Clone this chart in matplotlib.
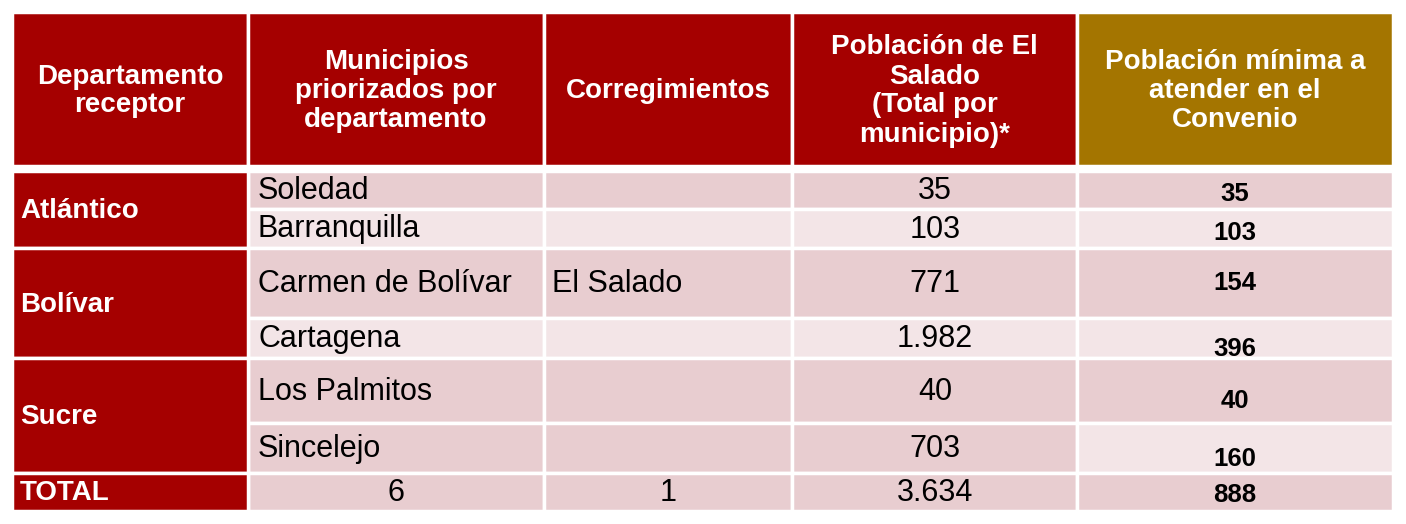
import matplotlib
matplotlib.use("Agg")
import matplotlib.pyplot as plt
from matplotlib.patches import Rectangle

headers = ["Departamento\nreceptor", "Municipios\npriorizados por\ndepartamento", "Corregimientos",
           "Población de El\nSalado\n(Total por\nmunicipio)*", "Población mínima a\natender en el\nConvenio"]
departamentos = [("Atlántico", 0, 2), ("Bolívar", 2, 4), ("Sucre", 4, 6)]
municipios = ["Soledad", "Barranquilla", "Carmen de Bolívar", "Cartagena", "Los Palmitos", "Sincelejo"]
corregimiento = "El Salado"
poblacion = ["35", "103", "771", "1.982", "40", "703"]
minima = ["35", "103", "154", "396", "40", "160"]
total = ["TOTAL", "6", "1", "3.634", "888"]

W, H = 1406, 524
fig = plt.figure(figsize=(W/100, H/100), dpi=100)
ax = fig.add_axes([0, 0, 1, 1])
ax.set_xlim(0, W); ax.set_ylim(H, 0); ax.axis("off")

cols = [12, 248, 544, 792, 1077, 1393]
rows = [171, 209, 248, 318, 358, 423, 473, 511]
RED = "#A50000"; GOLD = "#A47500"; DARK = "#E8CDD0"; LIGHT = "#F3E5E7"
FONT = "Liberation Sans"
lw = 2.5
HS, BS, NS, DS = 20, 22, 18.5, 20

def rect(x0, y0, x1, y1, c):
    ax.add_patch(Rectangle((x0, y0), x1-x0, y1-y0, facecolor=c, edgecolor="white", lw=lw))

# header
for i in range(5):
    rect(cols[i], 12, cols[i+1], 166, GOLD if i == 4 else RED)
    ax.text((cols[i]+cols[i+1])/2 if i else 130, 91, headers[i], ha="center", va="center",
            color="white", fontsize=HS, fontweight="bold", family=FONT, linespacing=1.15)

# body
for r in range(7):
    y0, y1 = rows[r], rows[r+1]
    for c in range(1, 5):
        shade = DARK if r % 2 == 0 else LIGHT
        if r == 5 and c < 4:
            shade = DARK
        rect(cols[c], y0, cols[c+1], y1, shade)
for name, a, b in departamentos:
    rect(cols[0], rows[a], cols[1], rows[b], RED)
    ax.text(20, (rows[a]+rows[b])/2 + 2, name, ha="left", va="center", color="white",
            fontsize=DS, fontweight="bold", family=FONT)
rect(cols[0], rows[6], cols[1], rows[7], RED)

for r in range(6):
    yc = (rows[r]+rows[r+1])/2 + 1
    ax.text(258, yc, municipios[r], ha="left", va="center", fontsize=BS, family=FONT)
    ax.text(935, yc, poblacion[r], ha="center", va="center", fontsize=BS, family=FONT)
    off = 10 if r in (3, 4, 5) else 3
    if r == 2: off = -1
    ax.text(1235, yc + off, minima[r], ha="center", va="center", fontsize=NS, fontweight="bold", family=FONT)
ax.text(552, (rows[2]+rows[3])/2 + 1, corregimiento, ha="left", va="center", fontsize=BS, family=FONT)

yc = (rows[6]+rows[7])/2 + 1
ax.text(20, yc, total[0], ha="left", va="center", color="white", fontsize=DS, fontweight="bold", family=FONT)
ax.text(396, yc, total[1], ha="center", va="center", fontsize=BS, family=FONT)
ax.text(668, yc, total[2], ha="center", va="center", fontsize=BS, family=FONT)
ax.text(935, yc, total[3], ha="center", va="center", fontsize=BS, family=FONT)
ax.text(1235, yc + 2, total[4], ha="center", va="center", fontsize=NS, fontweight="bold", family=FONT)

fig.savefig("out.png", dpi=100)
